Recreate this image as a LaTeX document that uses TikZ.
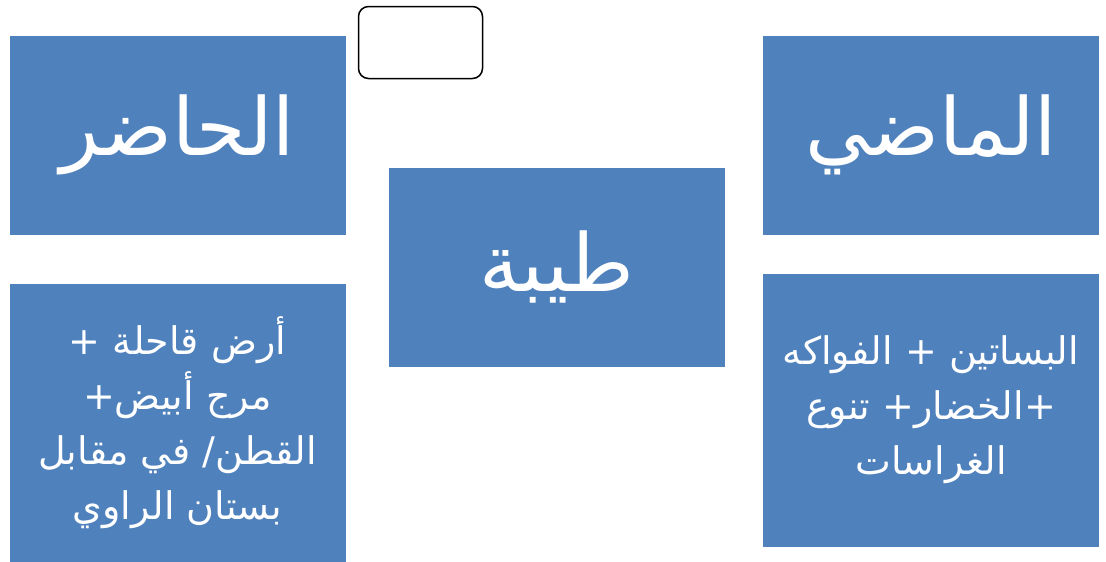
\documentclass[tikz,border=0pt]{standalone}
\usepackage{fontspec}
\newfontfamily\arabicfont[Script=Arabic]{DejaVu Sans}
\TeXXeTstate=1
\usetikzlibrary{positioning}

\begin{document}
\begin{tikzpicture}[
    x=1pt, y=-1pt,
    panel/.style={
        fill=panelblue,
        draw=white,
        line width=0.6pt,
        text=white,
        align=center,
        inner sep=0pt
    },
    title/.style={
        panel,
        minimum width=337pt,
        minimum height=200pt,
        font=\arabicfont\fontsize{80}{90}\selectfont
    },
    detail/.style={
        panel,
        minimum width=337pt,
        font=\arabicfont\fontsize{38}{55}\selectfont
    },
    blank/.style={
        draw=black,
        fill=white,
        rounded corners=10pt,
        line width=1.5pt,
        minimum width=124pt,
        minimum height=72pt
    }
]

\definecolor{panelblue}{RGB}{79,129,189}

\useasboundingbox (0,0) rectangle (1106,562);

% top row
\node[title] (present) at (177.5,135) {\beginR الحاضر\endR};
\node[title] (past) at (931,135) {\beginR الماضي\endR};
\node[title] (tiba) at (556.5,267) {\beginR طيبة\endR};
\node[blank] (label) at (420.5,42.5) {};

% details
\node[detail, minimum height=279pt] (presentnote) at (177.5,422.5) {%
\beginR أرض قاحلة +\endR\\
\beginR مرج أبيض+\endR\\
\beginR القطن/ في مقابل\endR\\
\beginR بستان الراوي\endR};
\node[detail, minimum height=274pt] (pastnote) at (931,410) {%
\beginR البساتين + الفواكه\endR\\
\beginR +الخضار+ تنوع\endR\\
\beginR الغراسات\endR};

\end{tikzpicture}
\end{document}
